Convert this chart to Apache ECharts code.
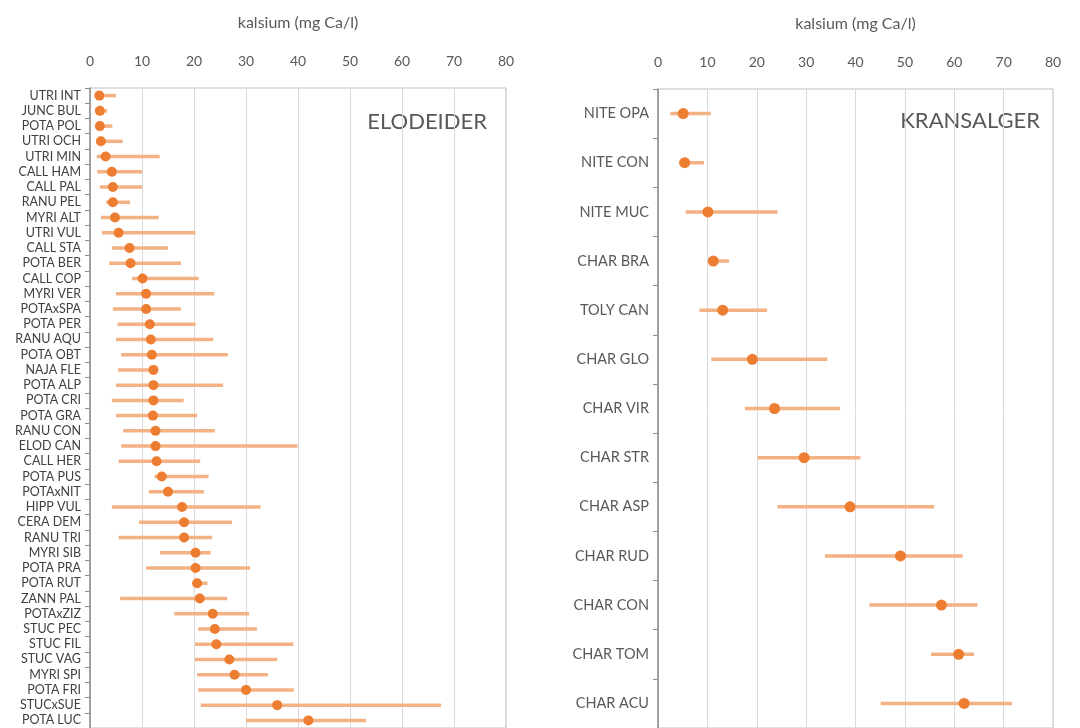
<!DOCTYPE html>
<html>
<head>
<meta charset="utf-8">
<script src="https://cdn.jsdelivr.net/npm/echarts@6/dist/echarts.min.js"></script>
<style>
  html, body { margin: 0; padding: 0; background: #fff; }
  #chart { width: 1080px; height: 728px; }
</style>
</head>
<body>
<div id="chart"></div>
<script>
// ELODEIDER (left panel)
const eloNames = ['UTRI INT', 'JUNC BUL', 'POTA POL', 'UTRI OCH', 'UTRI MIN', 'CALL HAM', 'CALL PAL', 'RANU PEL',
  'MYRI ALT', 'UTRI VUL', 'CALL STA', 'POTA BER', 'CALL COP', 'MYRI VER', 'POTAxSPA', 'POTA PER', 'RANU AQU',
  'POTA OBT', 'NAJA FLE', 'POTA ALP', 'POTA CRI', 'POTA GRA', 'RANU CON', 'ELOD CAN', 'CALL HER', 'POTA PUS',
  'POTAxNIT', 'HIPP VUL', 'CERA DEM', 'RANU TRI', 'MYRI SIB', 'POTA PRA', 'POTA RUT', 'ZANN PAL', 'POTAxZIZ',
  'STUC PEC', 'STUC FIL', 'STUC VAG', 'MYRI SPI', 'POTA FRI', 'STUCxSUE', 'POTA LUC']
const eloMean = [1.8, 1.9, 1.9, 2.1, 3.0, 4.2, 4.4, 4.4, 4.8, 5.5, 7.6, 7.8, 10.1, 10.8, 10.8, 11.5, 11.7,
  11.9, 12.2, 12.2, 12.2, 12.1, 12.6, 12.6, 12.8, 13.8, 15.0, 17.7, 18.1, 18.1, 20.3, 20.3, 20.6, 21.1, 23.6,
  24.0, 24.3, 26.8, 27.8, 30.0, 36.0, 42.0]
const eloMin = [1.0, 1.2, 1.2, 1.2, 1.3, 1.4, 1.9, 3.1, 2.1, 2.3, 4.2, 3.7, 8.1, 5.0, 4.4, 5.3, 5.0,
  6.0, 5.4, 5.0, 4.2, 5.0, 6.4, 6.0, 5.5, 12.4, 11.3, 4.2, 9.4, 5.5, 13.5, 10.8, 20.2, 5.8, 16.2,
  20.8, 20.2, 20.2, 20.6, 20.8, 21.3, 30.0]
const eloMax = [5.0, 3.3, 4.3, 6.3, 13.4, 10.0, 10.0, 7.7, 13.2, 20.3, 15.0, 17.5, 20.9, 23.9, 17.5, 20.3, 23.7,
  26.5, 12.9, 25.6, 18.0, 20.6, 24.0, 39.9, 21.2, 22.8, 21.9, 32.8, 27.3, 23.5, 23.2, 30.8, 22.6, 26.4, 30.6,
  32.1, 39.1, 36.0, 34.2, 39.2, 67.5, 53.1]

// KRANSALGER (right panel)
const kraNames = ['NITE OPA', 'NITE CON', 'NITE MUC', 'CHAR BRA', 'TOLY CAN', 'CHAR GLO', 'CHAR VIR',
  'CHAR STR', 'CHAR ASP', 'CHAR RUD', 'CHAR CON', 'CHAR TOM', 'CHAR ACU']
const kraMean = [5.1, 5.4, 10.1, 11.2, 13.1, 19.1, 23.6, 29.6, 38.9, 49.1, 57.4, 60.9, 62.0]
const kraMin = [2.5, 4.3, 5.6, 10.1, 8.4, 10.8, 17.6, 20.2, 24.2, 33.8, 42.8, 55.3, 45.1]
const kraMax = [10.7, 9.3, 24.2, 14.4, 22.1, 34.3, 36.9, 41.0, 55.9, 61.7, 64.7, 64.0, 71.7]

const axisTicks = [0, 10, 20, 30, 40, 50, 60, 70, 80]

const chart = echarts.init(document.getElementById('chart'))
const font = 'Lato, "Open Sans", sans-serif'
const dotColor = '#ED7D31'
const barColor = '#F4B183'
const textColor = '#595959'

function errItem(lo, hi, i) {
  return [lo, hi, i]
}

function makeRender(width) {
  return function (params, api) {
    const a = api.coord([api.value(0), api.value(2)])
    const b = api.coord([api.value(1), api.value(2)])
    return {
      type: 'line',
      shape: { x1: a[0], y1: a[1], x2: b[0], y2: b[1] },
      style: { stroke: barColor, lineWidth: width }
    }
  }
}

function xAxisFor(gridIndex) {
  return {
    gridIndex: gridIndex,
    type: 'value',
    position: 'top',
    min: axisTicks[0],
    max: axisTicks[axisTicks.length - 1],
    interval: 10,
    name: 'kalsium (mg Ca/l)',
    nameLocation: 'middle',
    nameGap: 57,
    nameTextStyle: { color: textColor, fontSize: 16, fontFamily: font },
    axisLine: { show: false },
    axisTick: { show: false },
    axisLabel: { color: textColor, fontSize: 14, fontFamily: font, margin: 20 },
    splitLine: { lineStyle: { color: '#d9d9d9', width: 1 } }
  }
}

function yAxisFor(gridIndex, names, size, color) {
  return {
    gridIndex: gridIndex,
    type: 'category',
    data: names,
    inverse: true,
    axisLine: { lineStyle: { color: '#8c8c8c', width: 1.5 } },
    axisTick: { show: true, length: 5, lineStyle: { color: '#8c8c8c' } },
    axisLabel: { color: color, fontSize: size, fontFamily: font, margin: 9, interval: 0 },
    splitLine: { show: false }
  }
}

const option = {
  animation: false,
  grid: [
    { left: 90, width: 416, top: 88, height: 643, show: true, borderColor: '#bfbfbf', borderWidth: 1 },
    { left: 658, width: 395, top: 89, height: 642, show: true, borderColor: '#bfbfbf', borderWidth: 1 }
  ],
  xAxis: [xAxisFor(0), xAxisFor(1)],
  yAxis: [yAxisFor(0, eloNames, 12.5, '#404040'), yAxisFor(1, kraNames, 14.5, textColor)],
  graphic: [
    {
      type: 'text', right: 1080 - 487, top: 111,
      style: { text: 'ELODEIDER', fill: textColor, font: '22px ' + font }
    },
    {
      type: 'text', right: 1080 - 1040, top: 110,
      style: { text: 'KRANSALGER', fill: textColor, font: '22px ' + font }
    }
  ],
  series: [
    {
      type: 'custom',
      xAxisIndex: 0, yAxisIndex: 0,
      renderItem: makeRender(3.5),
      data: eloNames.map((n, i) => errItem(eloMin[i], eloMax[i], i)),
      z: 2
    },
    {
      type: 'scatter',
      xAxisIndex: 0, yAxisIndex: 0,
      symbolSize: 10,
      itemStyle: { color: dotColor, opacity: 1 },
      data: eloNames.map((n, i) => [eloMean[i], i]),
      z: 3
    },
    {
      type: 'custom',
      xAxisIndex: 1, yAxisIndex: 1,
      renderItem: makeRender(3.5),
      data: kraNames.map((n, i) => errItem(kraMin[i], kraMax[i], i)),
      z: 2
    },
    {
      type: 'scatter',
      xAxisIndex: 1, yAxisIndex: 1,
      symbolSize: 11,
      itemStyle: { color: dotColor, opacity: 1 },
      data: kraNames.map((n, i) => [kraMean[i], i]),
      z: 3
    }
  ]
}

chart.setOption(option)
</script>
</body>
</html>
